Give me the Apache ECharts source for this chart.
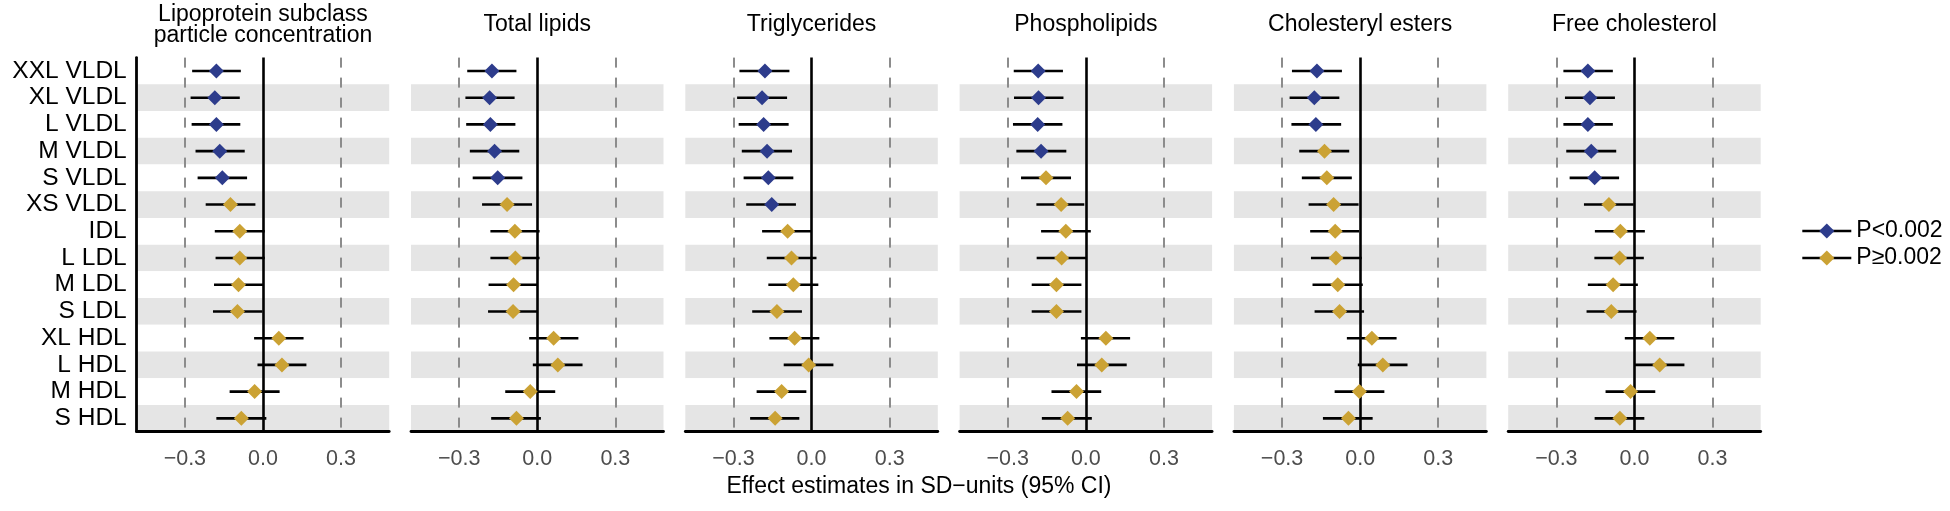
<!DOCTYPE html>
<html>
<head>
<meta charset="utf-8">
<title>Forest plot</title>
<script src="https://cdn.jsdelivr.net/npm/echarts@6/dist/echarts.min.js"></script>
<style>
html, body { margin: 0; padding: 0; background: #fff; }
#main { width: 1950px; height: 511px; }
</style>
</head>
<body>
<div id="main"></div>
<script>
// rows (top to bottom)
var categories = ['XXL VLDL', 'XL VLDL', 'L VLDL', 'M VLDL', 'S VLDL', 'XS VLDL', 'IDL',
	'L LDL', 'M LDL', 'S LDL', 'XL HDL', 'L HDL', 'M HDL', 'S HDL'];
var panelTitles = ['Lipoprotein subclass\nparticle concentration', 'Total lipids', 'Triglycerides',
	'Phospholipids', 'Cholesteryl esters', 'Free cholesterol'];
var tickValues = [-0.3, 0, 0.3];
var refLines = [-0.3, 0.3];
var legendNames = ['P<0.002', 'P\u22650.002'];
var xTitle = 'Effect estimates in SD\u2212units (95% CI)';

// particle concentration
var particleEst = [-0.179, -0.185, -0.179, -0.166, -0.156, -0.125, -0.089, -0.089, -0.094, -0.098, 0.061, 0.073, -0.032, -0.083];
var particleLo = [-0.272, -0.278, -0.274, -0.259, -0.251, -0.220, -0.185, -0.182, -0.188, -0.192, -0.034, -0.021, -0.128, -0.179];
var particleHi = [-0.085, -0.089, -0.087, -0.070, -0.061, -0.029, 0.007, 0.007, 0.000, -0.002, 0.156, 0.167, 0.064, 0.013];
var particleSig = [1, 1, 1, 1, 1, 0, 0, 0, 0, 0, 0, 0, 0, 0];
// total lipids
var lipidsEst = [-0.174, -0.183, -0.180, -0.164, -0.152, -0.116, -0.086, -0.084, -0.091, -0.093, 0.063, 0.079, -0.027, -0.080];
var lipidsLo = [-0.269, -0.276, -0.273, -0.259, -0.248, -0.212, -0.180, -0.180, -0.187, -0.189, -0.031, -0.017, -0.123, -0.177];
var lipidsHi = [-0.080, -0.087, -0.084, -0.069, -0.057, -0.020, 0.009, 0.009, -0.001, -0.001, 0.158, 0.174, 0.069, 0.014];
var lipidsSig = [1, 1, 1, 1, 1, 0, 0, 0, 0, 0, 0, 0, 0, 0];
// triglycerides
var trigEst = [-0.179, -0.190, -0.184, -0.171, -0.166, -0.153, -0.092, -0.077, -0.070, -0.133, -0.065, -0.011, -0.115, -0.140];
var trigLo = [-0.277, -0.286, -0.280, -0.268, -0.261, -0.251, -0.190, -0.172, -0.166, -0.228, -0.162, -0.107, -0.211, -0.236];
var trigHi = [-0.085, -0.094, -0.088, -0.075, -0.070, -0.060, 0.001, 0.019, 0.026, -0.037, 0.030, 0.084, -0.020, -0.047];
var trigSig = [1, 1, 1, 1, 1, 1, 0, 0, 0, 0, 0, 0, 0, 0];
// phospholipids
var phosEst = [-0.183, -0.182, -0.185, -0.172, -0.153, -0.095, -0.077, -0.093, -0.113, -0.113, 0.077, 0.061, -0.036, -0.070];
var phosLo = [-0.277, -0.276, -0.280, -0.267, -0.249, -0.190, -0.172, -0.189, -0.208, -0.208, -0.019, -0.034, -0.132, -0.169];
var phosHi = [-0.088, -0.086, -0.090, -0.075, -0.057, -0.006, 0.019, 0.004, -0.017, -0.017, 0.170, 0.157, 0.059, 0.023];
var phosSig = [1, 1, 1, 1, 0, 0, 0, 0, 0, 0, 0, 0, 0, 0];
// cholesteryl esters
var cholEst = [-0.166, -0.176, -0.170, -0.137, -0.128, -0.102, -0.096, -0.093, -0.086, -0.079, 0.045, 0.087, -0.003, -0.045];
var cholLo = [-0.262, -0.271, -0.264, -0.234, -0.224, -0.198, -0.192, -0.189, -0.183, -0.175, -0.051, -0.009, -0.098, -0.143];
var cholHi = [-0.070, -0.080, -0.073, -0.042, -0.032, -0.006, -0.004, 0.006, 0.010, 0.015, 0.140, 0.182, 0.093, 0.048];
var cholSig = [1, 1, 1, 0, 0, 0, 0, 0, 0, 0, 0, 0, 0, 0];
// free cholesterol
var freeEst = [-0.179, -0.171, -0.179, -0.166, -0.153, -0.098, -0.054, -0.057, -0.082, -0.089, 0.059, 0.097, -0.015, -0.056];
var freeLo = [-0.273, -0.267, -0.273, -0.262, -0.249, -0.194, -0.152, -0.154, -0.179, -0.184, -0.037, 0.001, -0.111, -0.153];
var freeHi = [-0.083, -0.075, -0.083, -0.070, -0.059, -0.003, 0.040, 0.036, 0.013, 0.008, 0.153, 0.192, 0.080, 0.038];
var freeSig = [1, 1, 1, 1, 1, 0, 0, 0, 0, 0, 0, 0, 0, 0];

var estList = [particleEst, lipidsEst, trigEst, phosEst, cholEst, freeEst];
var loList = [particleLo, lipidsLo, trigLo, phosLo, cholLo, freeLo];
var hiList = [particleHi, lipidsHi, trigHi, phosHi, cholHi, freeHi];
var sigList = [particleSig, lipidsSig, trigSig, phosSig, cholSig, freeSig];

// layout
var PANEL_LEFT = 136.7, PANEL_STEP = 274.3, PANEL_W = 252.5;
var PANEL_TOP = 57.6, PANEL_H = 374.1;
var X_MIN = -0.485, X_MAX = 0.485;
var FONT = '"Liberation Sans", Arial, Helvetica, sans-serif';
var colors = ['#2d3c8c', '#cba234'];

function tickFmt(v) {
	return (v < 0 ? '\u2212' : '') + Math.abs(v).toFixed(1);
}

// horizontal CI line, from lower to upper
function errorBar(params, api) {
	var p1 = api.coord([api.value(1), api.value(0)]);
	var p2 = api.coord([api.value(2), api.value(0)]);
	return {
		type: 'line',
		shape: { x1: p1[0], y1: p1[1], x2: p2[0], y2: p2[1] },
		style: { stroke: '#000', lineWidth: 2.6 }
	};
}

var grids = [], xAxes = [], yAxes = [], series = [], graphics = [];

panelTitles.forEach(function(title, i) {
	var left = PANEL_LEFT + i * PANEL_STEP;
	grids.push({ left: left, top: PANEL_TOP, width: PANEL_W, height: PANEL_H, outerBoundsMode: 'none' });
	xAxes.push({
		type: 'value', gridIndex: i, min: X_MIN, max: X_MAX,
		splitLine: { show: false },
		axisTick: { show: false },
		axisLine: { show: true, onZero: false, lineStyle: { color: '#000', width: 2.8 } },
		axisLabel: { customValues: tickValues, formatter: tickFmt, color: '#4d4d4d', fontSize: 21.5, fontFamily: FONT, margin: 16 }
	});
	yAxes.push({
		type: 'category', gridIndex: i, data: categories, inverse: true,
		axisTick: { show: false },
		axisLine: { show: i === 0, onZero: false, lineStyle: { color: '#000', width: 2.8 } },
		axisLabel: { show: i === 0, interval: 0, color: '#000', fontSize: 24.5, fontFamily: FONT, margin: 10 },
		splitLine: { show: false },
		splitArea: { show: true, interval: 0, areaStyle: { color: ['#ffffff', '#e5e5e5'] } }
	});

	var bars = [], groups = [[], []];
	categories.forEach(function(c, r) {
		bars.push([r, loList[i][r], hiList[i][r]]);
		groups[sigList[i][r] ? 0 : 1].push([estList[i][r], r]);
	});

	series.push({
		type: 'custom', xAxisIndex: i, yAxisIndex: i, z: 3,
		renderItem: errorBar,
		encode: { y: 0, x: [1, 2] },
		data: bars
	});
	groups.forEach(function(g, k) {
		var s = {
			name: 'grp' + k, type: 'scatter', xAxisIndex: i, yAxisIndex: i, z: 4,
			symbol: 'diamond', symbolSize: 15,
			itemStyle: { color: colors[k], opacity: 1 },
			data: g
		};
		if (k === 0) {
			s.markLine = {
				silent: true, symbol: ['none', 'none'], z: 1,
				label: { show: false },
				data: refLines.map(function(v) {
					return { xAxis: v, lineStyle: { color: '#8c8c8c', width: 2, type: [10, 10] } };
				}).concat([{ xAxis: 0, lineStyle: { color: '#000', width: 2.6, type: 'solid' } }])
			};
		}
		series.push(s);
	});

	graphics.push({
		type: 'text', x: left + PANEL_W / 2, y: 25,
		style: {
			text: title, fill: '#000', font: '23px ' + FONT, lineHeight: 20.5,
			align: 'center', verticalAlign: 'middle', textAlign: 'center', textVerticalAlign: 'middle'
		}
	});
});

// empty line series only give the legend its line + diamond icon
legendNames.forEach(function(name, k) {
	series.push({
		name: name, type: 'line', xAxisIndex: 5, yAxisIndex: 5,
		dimensions: ['x', 'y'], data: [],
		symbol: 'diamond', lineStyle: { color: '#000', width: 2.6 },
		itemStyle: { color: colors[k] }
	});
});

graphics.push({
	type: 'text', x: 919, y: 487,
	style: {
		text: xTitle, fill: '#000', font: '23px ' + FONT,
		align: 'center', verticalAlign: 'middle', textAlign: 'center', textVerticalAlign: 'middle'
	}
});

var option = {
	animation: false,
	backgroundColor: '#fff',
	textStyle: { fontFamily: FONT },
	grid: grids,
	xAxis: xAxes,
	yAxis: yAxes,
	legend: {
		orient: 'vertical', left: 1801, top: 219.5, padding: 0,
		itemWidth: 49, itemHeight: 19, itemGap: 4, selectedMode: false,
		textStyle: { fontSize: 23, color: '#000', fontFamily: FONT },
		data: legendNames.map(function(n, k) {
			return { name: n, itemStyle: { color: colors[k] }, lineStyle: { color: '#000', width: 2.6 } };
		})
	},
	graphic: graphics,
	series: series
};

var chart = echarts.init(document.getElementById('main'));
chart.setOption(option);
</script>
</body>
</html>
